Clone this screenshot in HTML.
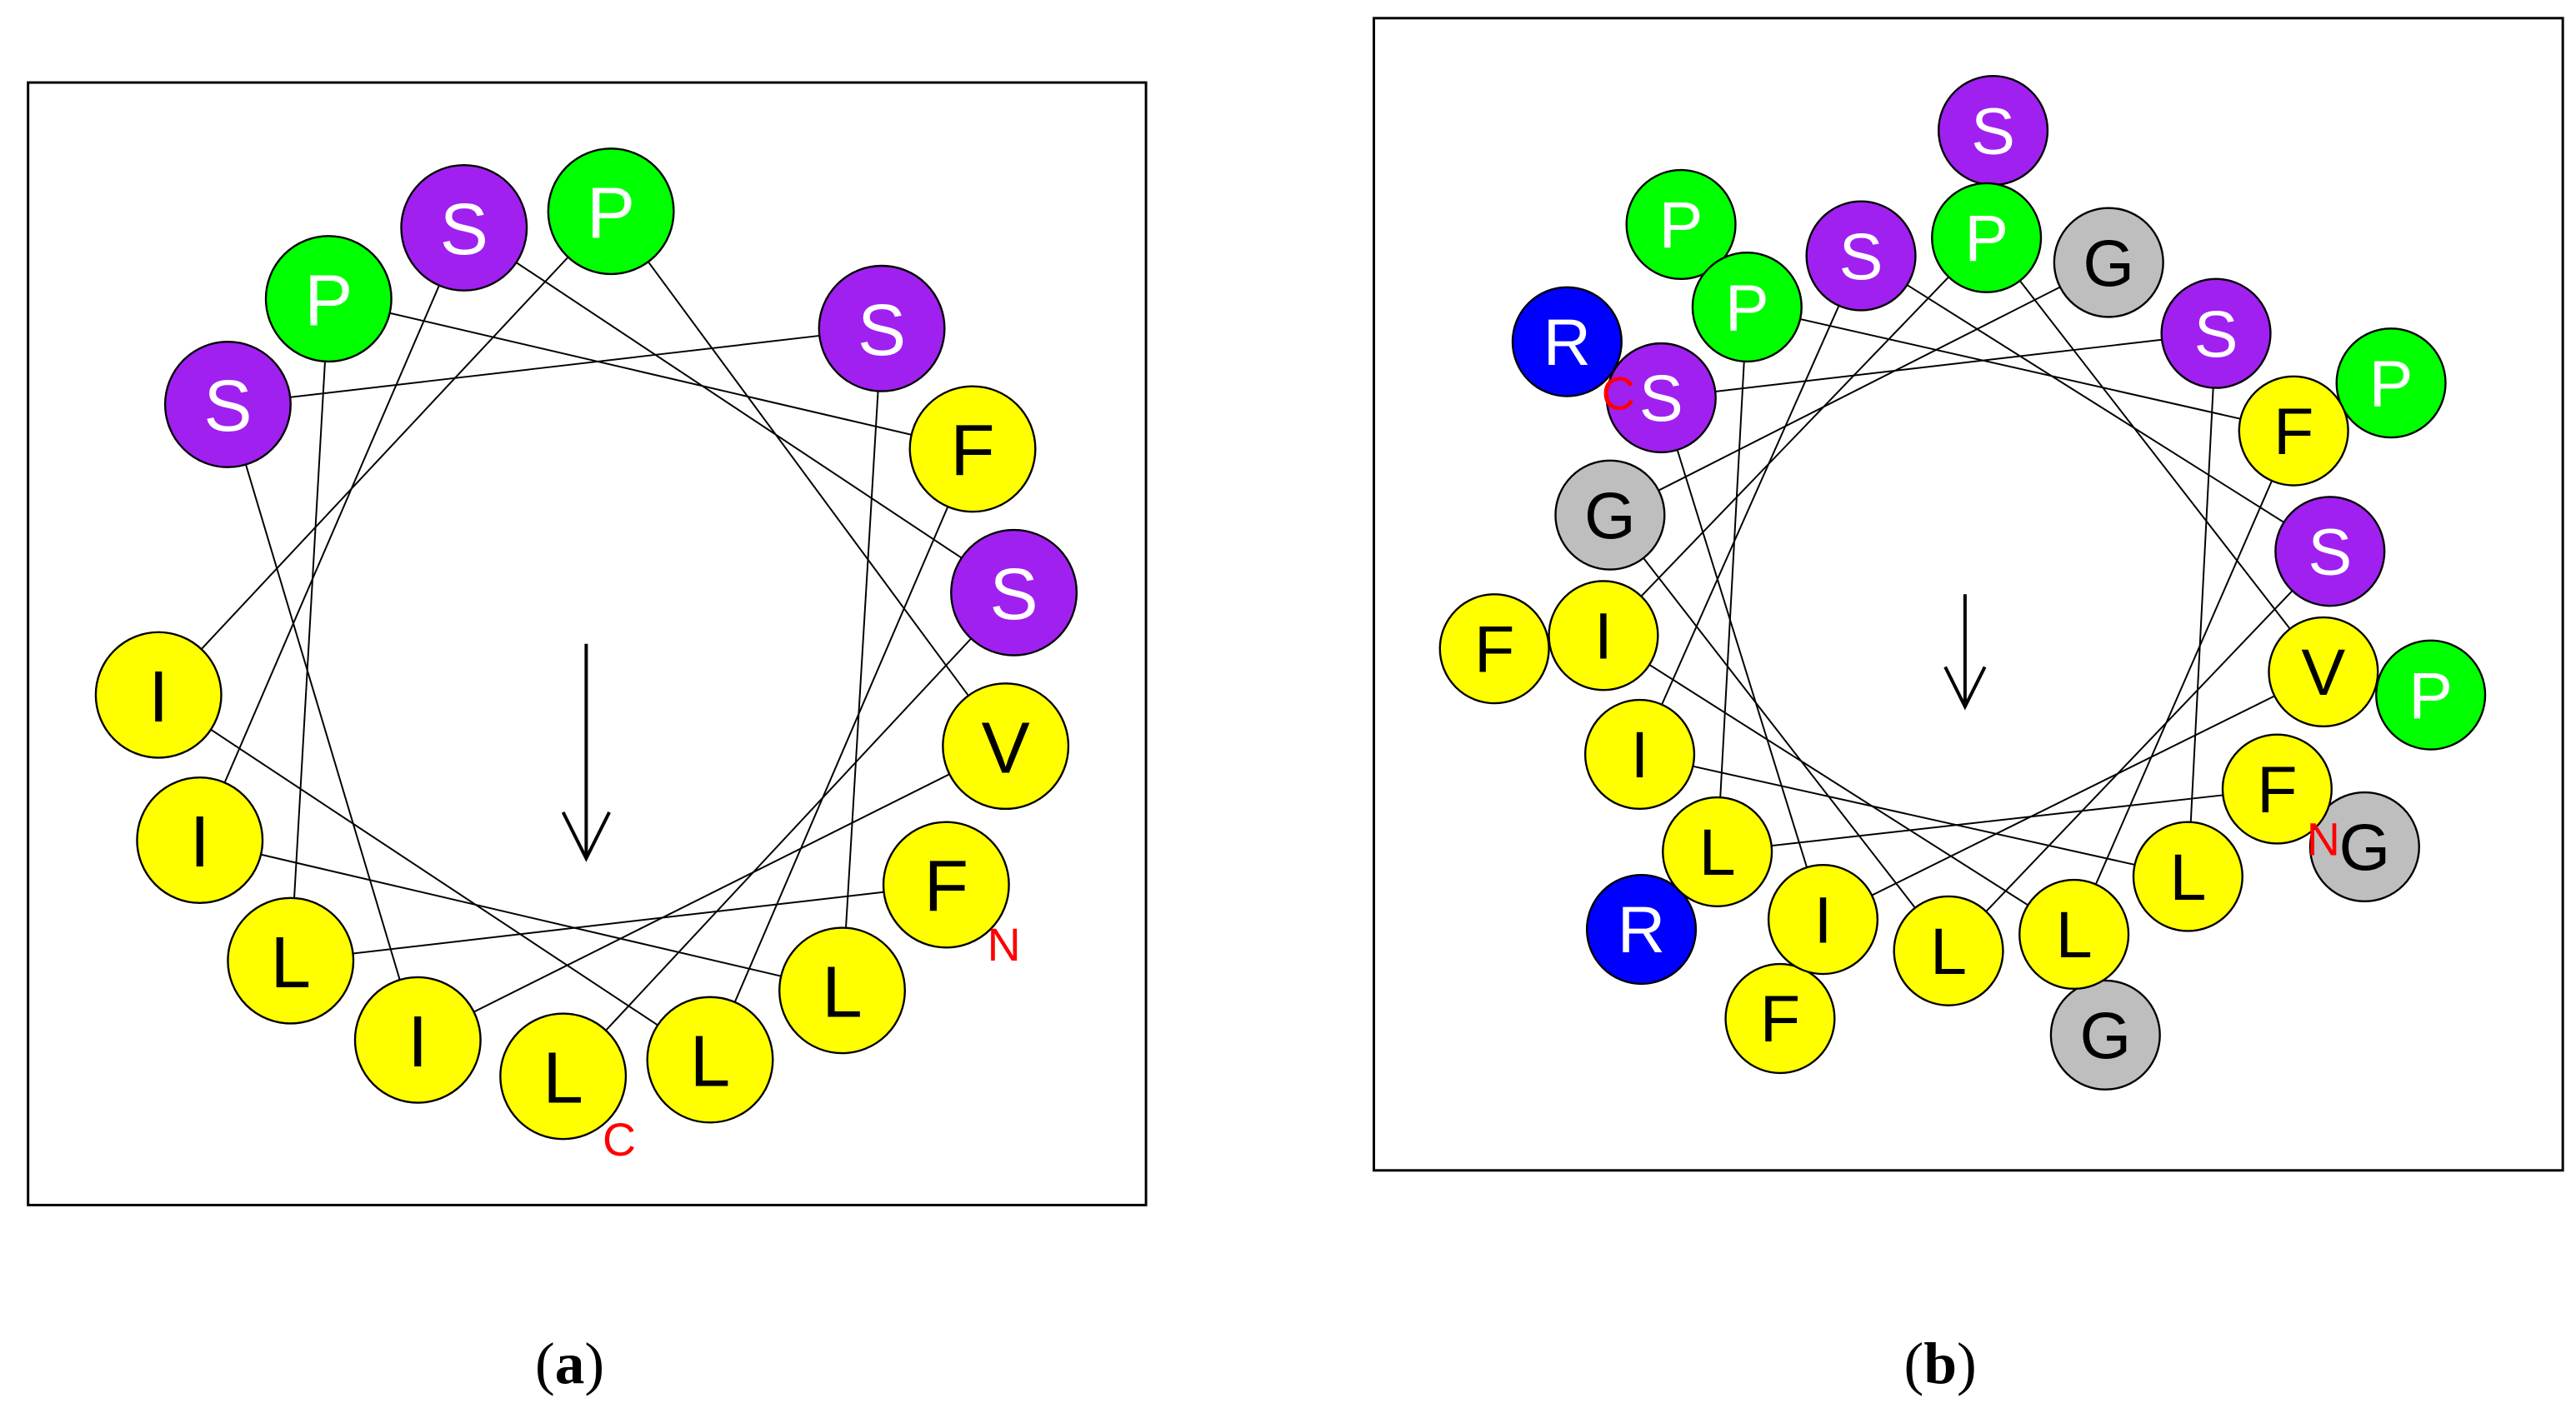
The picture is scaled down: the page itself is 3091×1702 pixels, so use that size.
<!DOCTYPE html>
<html><head><meta charset="utf-8">
<style>
html,body{margin:0;padding:0;background:#fff;}
svg{display:block;}
text{font-family:"Liberation Sans",sans-serif;}
</style></head>
<body>
<svg width="3091" height="1702" viewBox="0 0 1560 859" preserveAspectRatio="none" xmlns="http://www.w3.org/2000/svg">
<rect x="0" y="0" width="1560" height="859" fill="#fff"/>
<!-- Panel a -->
<rect x="17" y="50" width="677" height="680" fill="none" stroke="#000" stroke-width="1.5"/>
<g stroke="#000" stroke-width="1" fill="none">
<line x1="573" y1="536" x2="176" y2="582"/>
<line x1="176" y1="582" x2="199" y2="181"/>
<line x1="199" y1="181" x2="589" y2="272"/>
<line x1="589" y1="272" x2="430" y2="642"/>
<line x1="430" y1="642" x2="96" y2="421"/>
<line x1="96" y1="421" x2="370" y2="128"/>
<line x1="370" y1="128" x2="609" y2="452"/>
<line x1="609" y1="452" x2="253" y2="630"/>
<line x1="253" y1="630" x2="138" y2="245"/>
<line x1="138" y1="245" x2="534" y2="199"/>
<line x1="534" y1="199" x2="510" y2="600"/>
<line x1="510" y1="600" x2="121" y2="509"/>
<line x1="121" y1="509" x2="281" y2="138"/>
<line x1="281" y1="138" x2="614" y2="359"/>
<line x1="614" y1="359" x2="341" y2="652"/>
<line x1="355" y1="390" x2="355" y2="520" stroke-width="2"/>
<polyline points="341,492 355,520 369,492" stroke-width="2"/>
</g>
<g stroke="#000" stroke-width="1.2" font-size="44" text-anchor="middle">
<circle cx="138" cy="245" r="38" fill="#A020F0"/>
<circle cx="199" cy="181" r="38" fill="#00FF00"/>
<circle cx="281" cy="138" r="38" fill="#A020F0"/>
<circle cx="370" cy="128" r="38" fill="#00FF00"/>
<circle cx="534" cy="199" r="38" fill="#A020F0"/>
<circle cx="589" cy="272" r="38" fill="#FFFF00"/>
<circle cx="614" cy="359" r="38" fill="#A020F0"/>
<circle cx="609" cy="452" r="38" fill="#FFFF00"/>
<circle cx="573" cy="536" r="38" fill="#FFFF00"/>
<circle cx="510" cy="600" r="38" fill="#FFFF00"/>
<circle cx="430" cy="642" r="38" fill="#FFFF00"/>
<circle cx="341" cy="652" r="38" fill="#FFFF00"/>
<circle cx="253" cy="630" r="38" fill="#FFFF00"/>
<circle cx="176" cy="582" r="38" fill="#FFFF00"/>
<circle cx="121" cy="509" r="38" fill="#FFFF00"/>
<circle cx="96" cy="421" r="38" fill="#FFFF00"/>
</g>
<g font-size="44" text-anchor="middle" fill="#000">
<text x="138" y="261" fill="#fff">S</text>
<text x="199" y="197" fill="#fff">P</text>
<text x="281" y="154" fill="#fff">S</text>
<text x="370" y="144" fill="#fff">P</text>
<text x="534" y="215" fill="#fff">S</text>
<text x="589" y="288">F</text>
<text x="614" y="375" fill="#fff">S</text>
<text x="609" y="468">V</text>
<text x="573" y="552">F</text>
<text x="510" y="616">L</text>
<text x="430" y="658">L</text>
<text x="341" y="668">L</text>
<text x="253" y="646">I</text>
<text x="176" y="598">L</text>
<text x="121" y="525">I</text>
<text x="96" y="437">I</text>
</g>
<text x="608" y="582" font-size="28" fill="#ff0000" text-anchor="middle">N</text>
<text x="375" y="700" font-size="28" fill="#ff0000" text-anchor="middle">C</text>

<!-- Panel b -->
<rect x="832" y="11" width="720" height="698" fill="none" stroke="#000" stroke-width="1.5"/>
<g stroke="#000" stroke-width="1.2">
<circle cx="1207" cy="79" r="33" fill="#A020F0"/>
<circle cx="1018" cy="136" r="33" fill="#00FF00"/>
<circle cx="1448" cy="232" r="33" fill="#00FF00"/>
<circle cx="949" cy="207" r="33" fill="#0000FF"/>
<circle cx="905" cy="393" r="33" fill="#FFFF00"/>
<circle cx="1472" cy="421" r="33" fill="#00FF00"/>
<circle cx="1432" cy="513" r="33" fill="#BEBEBE"/>
<circle cx="994" cy="563" r="33" fill="#0000FF"/>
<circle cx="1078" cy="617" r="33" fill="#FFFF00"/>
<circle cx="1275" cy="627" r="33" fill="#BEBEBE"/>
</g>
<g stroke="#000" stroke-width="1" fill="none">
<line x1="1379" y1="478" x2="1040" y2="516"/>
<line x1="1040" y1="516" x2="1058" y2="186"/>
<line x1="1058" y1="186" x2="1389" y2="261"/>
<line x1="1389" y1="261" x2="1256" y2="566"/>
<line x1="1256" y1="566" x2="971" y2="385"/>
<line x1="971" y1="385" x2="1203" y2="144"/>
<line x1="1203" y1="144" x2="1407" y2="407"/>
<line x1="1407" y1="407" x2="1104" y2="557"/>
<line x1="1104" y1="557" x2="1006" y2="241"/>
<line x1="1006" y1="241" x2="1342" y2="202"/>
<line x1="1342" y1="202" x2="1325" y2="531"/>
<line x1="1325" y1="531" x2="993" y2="457"/>
<line x1="993" y1="457" x2="1127" y2="155"/>
<line x1="1127" y1="155" x2="1411" y2="334"/>
<line x1="1411" y1="334" x2="1180" y2="576"/>
<line x1="1180" y1="576" x2="975" y2="312"/>
<line x1="975" y1="312" x2="1277" y2="159"/>
<line x1="1190" y1="360" x2="1190" y2="428" stroke-width="2"/>
<polyline points="1178,404 1190,428 1202,404" stroke-width="2"/>
</g>
<g stroke="#000" stroke-width="1.2">
<circle cx="1203" cy="144" r="33" fill="#00FF00"/>
<circle cx="1277" cy="159" r="33" fill="#BEBEBE"/>
<circle cx="1342" cy="202" r="33" fill="#A020F0"/>
<circle cx="1389" cy="261" r="33" fill="#FFFF00"/>
<circle cx="1411" cy="334" r="33" fill="#A020F0"/>
<circle cx="1407" cy="407" r="33" fill="#FFFF00"/>
<circle cx="1379" cy="478" r="33" fill="#FFFF00"/>
<circle cx="1325" cy="531" r="33" fill="#FFFF00"/>
<circle cx="1256" cy="566" r="33" fill="#FFFF00"/>
<circle cx="1180" cy="576" r="33" fill="#FFFF00"/>
<circle cx="1104" cy="557" r="33" fill="#FFFF00"/>
<circle cx="1040" cy="516" r="33" fill="#FFFF00"/>
<circle cx="993" cy="457" r="33" fill="#FFFF00"/>
<circle cx="971" cy="385" r="33" fill="#FFFF00"/>
<circle cx="975" cy="312" r="33" fill="#BEBEBE"/>
<circle cx="1006" cy="241" r="33" fill="#A020F0"/>
<circle cx="1058" cy="186" r="33" fill="#00FF00"/>
<circle cx="1127" cy="155" r="33" fill="#A020F0"/>
</g>
<g font-size="40" text-anchor="middle" fill="#000">
<text x="1207" y="93" fill="#fff">S</text>
<text x="1018" y="150" fill="#fff">P</text>
<text x="1448" y="246" fill="#fff">P</text>
<text x="949" y="221" fill="#fff">R</text>
<text x="905" y="407">F</text>
<text x="1472" y="435" fill="#fff">P</text>
<text x="1432" y="527">G</text>
<text x="994" y="577" fill="#fff">R</text>
<text x="1078" y="631">F</text>
<text x="1275" y="641">G</text>
<text x="1203" y="158" fill="#fff">P</text>
<text x="1277" y="173">G</text>
<text x="1342" y="216" fill="#fff">S</text>
<text x="1389" y="275">F</text>
<text x="1411" y="348" fill="#fff">S</text>
<text x="1407" y="421">V</text>
<text x="1379" y="492">F</text>
<text x="1325" y="545">L</text>
<text x="1256" y="580">L</text>
<text x="1180" y="590">L</text>
<text x="1104" y="571">I</text>
<text x="1040" y="530">L</text>
<text x="993" y="471">I</text>
<text x="971" y="399">I</text>
<text x="975" y="326">G</text>
<text x="1006" y="255" fill="#fff">S</text>
<text x="1058" y="200" fill="#fff">P</text>
<text x="1127" y="169" fill="#fff">S</text>
</g>
<text x="1407" y="518" font-size="28" fill="#ff0000" text-anchor="middle">N</text>
<text x="980" y="248" font-size="28" fill="#ff0000" text-anchor="middle">C</text>

<!-- captions -->
<text x="345" y="838" font-size="36" text-anchor="middle" style="font-family:'Liberation Serif',serif">(<tspan font-weight="bold">a</tspan>)</text>
<text x="1175" y="838" font-size="36" text-anchor="middle" style="font-family:'Liberation Serif',serif">(<tspan font-weight="bold">b</tspan>)</text>
</svg>
</body></html>
